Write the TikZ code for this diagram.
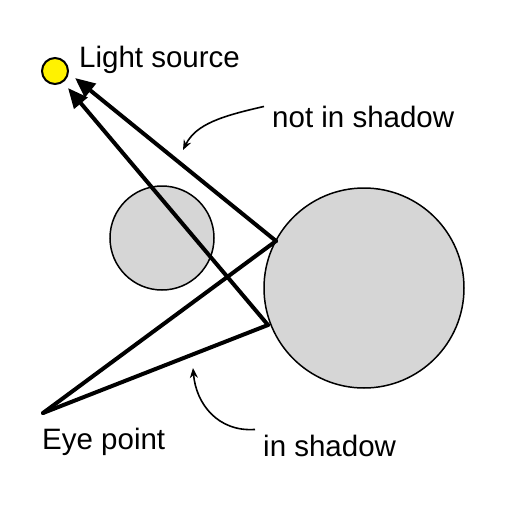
\documentclass[tikz,border=0pt]{standalone}
\usepackage{fontspec}
\setmainfont{Liberation Sans}
\usetikzlibrary{arrows.meta}
\begin{document}
\begin{tikzpicture}[
  x=1pt, y=-1pt,
  ball/.style={circle, draw, line width=1.5pt, fill=black!16, inner sep=0pt},
  ray/.style={line width=4pt, line cap=round},
  lightray/.style={ray, -{Triangle[length=20pt,width=17pt]}},
  pointer/.style={line width=1.6pt, -{Stealth[length=10pt,width=8pt]}},
  label/.style={anchor=base west, inner sep=0pt, font=\fontsize{29.5}{34}\selectfont}
]
  \useasboundingbox (0,0) rectangle (512,512);
  % scene
  \node[circle, draw, line width=2pt, fill=yellow, minimum size=26pt, inner sep=0pt] (light) at (55,71) {};
  \node[ball, minimum size=104pt] (blocker) at (162,238) {};
  \node[ball, minimum size=200pt] (sphere) at (364,288) {};
  \coordinate (eye) at (43,413);
  \coordinate (hitA) at (276,241);
  \coordinate (hitB) at (268,325);
  \coordinate (tipA) at (75,78);
  \coordinate (tipB) at (68,88);
  % rays
  \draw[ray] (eye) -- (hitA);
  \draw[ray] (eye) -- (hitB);
  \draw[lightray] (hitA) -- (tipA);
  \draw[lightray] (hitB) -- (tipB);
  % labels
  \node[label] (lightlbl) at (79,67) {Light source};
  \node[label] (notlbl) at (272,127) {not in shadow};
  \node[label] (eyelbl) at (42,449) {Eye point};
  \node[label] (inlbl) at (263,456) {in shadow};
  \coordinate (notend) at (183,150);
  \coordinate (inend) at (193,368);
  \draw[pointer] (notlbl.west) ++(-8,-10) .. controls (222,116) and (196,124) .. (notend);
  \draw[pointer] (inlbl.west) ++(-8,-16) .. controls (218,432) and (196,404) .. (inend);
\end{tikzpicture}
\end{document}
